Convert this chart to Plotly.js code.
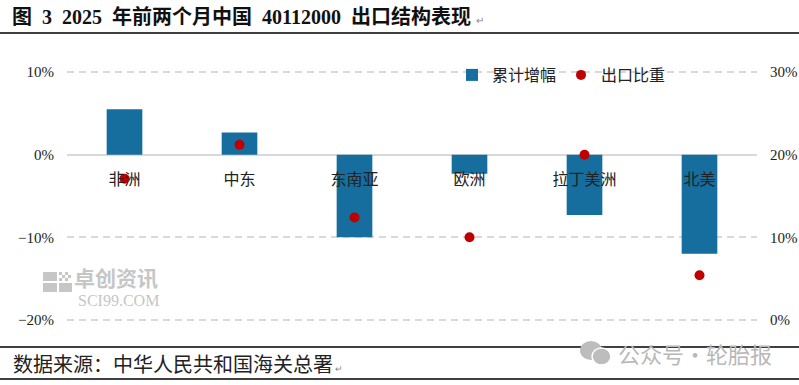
<!DOCTYPE html>
<html>
<head>
<meta charset="utf-8">
<script src="https://cdn.plot.ly/plotly-3.0.1.min.js"></script>
<style>
html,body{margin:0;padding:0;background:#fff;}
#chart{width:799px;height:385px;}
</style>
</head>
<body>
<div id="chart"></div>
<script>
// ---- data ----
const categories = ['非洲', '中东', '东南亚', '欧洲', '拉丁美洲', '北美'];
const growthPct = [5.5, 2.7, -10.0, -2.3, -7.3, -12.0];   // 累计增幅 (%)
const sharePct = [17.1, 21.2, 12.4, 10.0, 20.0, 5.4];     // 出口比重 (%)
const seriesNames = ['累计增幅', '出口比重'];
const leftRange = [-20, 10];
const rightRange = [0, 30];
const titleText = '图&nbsp;&nbsp;3&nbsp;&nbsp;2025&nbsp;&nbsp;年前两个月中国&nbsp;&nbsp;40112000&nbsp;&nbsp;出口结构表现';
const sourceText = '数据来源：中华人民共和国海关总署';

// ---- geometry helpers ----
const W = 799, H = 385;
const M = {l: 67, r: 42, t: 70, b: 63};
const PW = W - M.l - M.r, PH = H - M.t - M.b;
const px = x => (x - M.l) / PW;
const py = y => (H - M.b - y) / PH;
const pad = 0.25; // small padding so edge gridlines are drawn

const CJK = '"Noto Sans CJK SC", sans-serif';
const SERIF = '"Liberation Serif", "Noto Sans CJK SC", serif';

const traces = [
  {
    type: 'bar', name: seriesNames[0], x: categories, y: growthPct,
    width: 0.31, marker: {color: '#156e9d'}, yaxis: 'y'
  },
  {
    type: 'scatter', mode: 'markers', name: seriesNames[1], x: categories, y: sharePct,
    marker: {color: '#c00000', size: 10}, yaxis: 'y2'
  }
];

const gray = '#c6c6c6';
const rect = (x0, x1, y0, y1) => ({type: 'rect', xref: 'paper', yref: 'paper',
  x0: px(x0), x1: px(x1), y0: py(y0), y1: py(y1), fillcolor: gray, line: {width: 0}, layer: 'below'});
const shapes = [
  {type: 'line', xref: 'paper', yref: 'paper', x0: px(0), x1: px(W), y0: py(33), y1: py(33), line: {color: '#000', width: 1.3}},
  {type: 'line', xref: 'paper', yref: 'paper', x0: px(0), x1: px(W), y0: py(347), y1: py(347), line: {color: '#000', width: 1.3}},
  {type: 'line', xref: 'paper', yref: 'paper', x0: px(0), x1: px(W), y0: py(379), y1: py(379), line: {color: '#000', width: 1.3}},
  // SCI99 logo blocks
  rect(43, 57, 272, 281), rect(43, 57, 283, 292), rect(59, 72, 283, 292),
  rect(59, 62, 272, 275), rect(65, 68, 272, 275), rect(62, 65, 275, 278), rect(68, 71, 275, 278),
  rect(59, 62, 278, 281), rect(65, 68, 278, 281),
  // wechat icon
  {type: 'circle', xref: 'paper', yref: 'paper', x0: px(580), x1: px(602), y0: py(341), y1: py(360), fillcolor: '#bdbdbd', line: {width: 0}},
  {type: 'circle', xref: 'paper', yref: 'paper', x0: px(592), x1: px(611), y0: py(348), y1: py(365), fillcolor: '#bdbdbd', line: {color: '#fff', width: 1.5}}
];

const annotations = [
  {xref: 'paper', yref: 'paper', x: px(11), y: py(363), xanchor: 'left', yanchor: 'middle', showarrow: false,
   text: sourceText + '<span style="font-size:9px;color:#888"> ↵</span>',
   font: {family: CJK, size: 20, color: '#222'}},
  {xref: 'paper', yref: 'paper', x: px(72), y: py(277), xanchor: 'left', yanchor: 'middle', showarrow: false,
   text: '<b>卓创资讯</b>', font: {family: CJK, size: 21, color: gray}},
  {xref: 'paper', yref: 'paper', x: px(76), y: py(300), xanchor: 'left', yanchor: 'middle', showarrow: false,
   text: 'SCI99.COM', font: {family: SERIF, size: 16, color: gray}},
  {xref: 'paper', yref: 'paper', x: px(616), y: py(353), xanchor: 'left', yanchor: 'middle', showarrow: false,
   text: '公众号・轮胎报', font: {family: CJK, size: 22, color: '#b8b8b8'}}
];

const layout = {
  width: W, height: H,
  margin: M,
  paper_bgcolor: '#fff', plot_bgcolor: '#fff',
  title: {
    text: '<b>' + titleText + '</b><span style="font-size:10px;color:#888;font-weight:normal">&nbsp;&nbsp;↵</span>',
    xref: 'container', yref: 'container', x: 12 / W, xanchor: 'left', y: 1 - 17 / H, yanchor: 'middle',
    font: {family: SERIF, size: 20, color: '#111'}
  },
  showlegend: true,
  legend: {
    orientation: 'h', x: px(452), xanchor: 'left', y: py(75), yanchor: 'middle',
    font: {family: CJK, size: 16, color: '#222'}, bgcolor: 'rgba(0,0,0,0)'
  },
  xaxis: {
    type: 'category', range: [-0.5, 5.5], anchor: 'free',
    position: (0 - (leftRange[0] - pad)) / (leftRange[1] - leftRange[0] + 2 * pad),
    showgrid: false, showline: false, zeroline: false, ticks: '',
    tickfont: {family: CJK, size: 16, color: '#222'}, ticklabelstandoff: 13
  },
  yaxis: {
    range: [leftRange[0] - pad, leftRange[1] + pad], dtick: 10, tick0: 0, ticksuffix: '%',
    showgrid: true, gridcolor: '#d9d9d9', gridwidth: 2, griddash: '7px,5px',
    zeroline: true, zerolinecolor: '#d9d9d9', zerolinewidth: 2,
    showline: false, ticks: '', ticklabelstandoff: 12,
    tickfont: {family: SERIF, size: 15, color: '#222'}
  },
  yaxis2: {
    overlaying: 'y', side: 'right', range: [rightRange[0] - pad, rightRange[1] + pad], dtick: 10, tick0: 0, ticksuffix: '%',
    showgrid: false, zeroline: false, showline: false, ticks: '', ticklabelstandoff: 12,
    tickfont: {family: SERIF, size: 15, color: '#222'}
  },
  shapes: shapes,
  annotations: annotations
};

Plotly.newPlot('chart', traces, layout, {staticPlot: true, displayModeBar: false});
</script>
</body>
</html>
